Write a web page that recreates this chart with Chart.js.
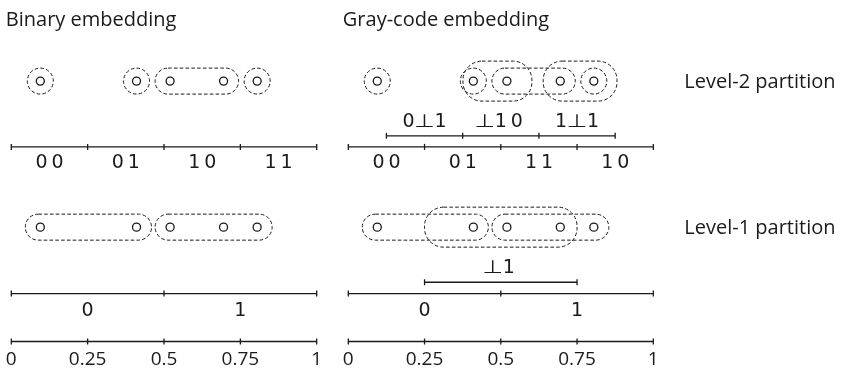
<!DOCTYPE html>
<html><head><meta charset="utf-8">
<script src="https://cdn.jsdelivr.net/npm/chart.js@4.4.1/dist/chart.umd.min.js"></script>
<style>
html,body{margin:0;padding:0;background:#fff;width:841px;height:375px;overflow:hidden}
canvas{position:absolute;top:0}
#cBin{left:0}
#cGray{left:335px}
</style></head><body>
<canvas id="cBin" width="335" height="375"></canvas>
<canvas id="cGray" width="506" height="375"></canvas>
<script>
// ---------------- data ----------------
const pointValues = [0.095, 0.41, 0.52, 0.695, 0.805];
const level2Bounds = [0, 0.25, 0.5, 0.75, 1];
const level1Bounds = [0, 0.5, 1];
const valueTicks = [0, 0.25, 0.5, 0.75, 1];
const valueTickLabels = ['0', '0.25', '0.5', '0.75', '1'];
const binaryLevel2Labels = ['00', '01', '10', '11'];
const binaryLevel1Labels = ['0', '1'];
const grayLevel2Labels = ['00', '01', '11', '10'];
const grayLevel1Labels = ['0', '1'];
const graySubLevel2Bounds = [0.125, 0.375, 0.625, 0.875];
const graySubLevel2Labels = ['0\u22A51', '\u22A510', '1\u22A51'];
const graySubLevel1Bounds = [0.25, 0.75];
const graySubLevel1Labels = ['\u22A51'];
const binaryLevel2Groups = [[0], [1], [2, 3], [4]];
const binaryLevel1Groups = [[0, 1], [2, 3, 4]];
const grayLevel2Groups = [[0], [1], [2, 3], [4]];
const grayLevel1Groups = [[0, 1], [2, 3, 4]];
const grayLevel2Hulls = [[0.376, 0.602], [0.639, 0.881]];
const grayLevel1Hulls = [[0.25, 0.75]];
const panelTitles = ['Binary embedding', 'Gray-code embedding'];
const partitionNames = ['Level-2 partition', 'Level-1 partition'];

// ---------------- layout / style ----------------
const ROW = {
  pts2: 78, sub2Lab: 125, sub2: 134.3, axis2: 145.7, lab2: 167.7,
  pts1: 228.3, sub1Lab: 276, sub1: 285, axis1: 296.7, lab1: 319.3,
  axisV: 346, labV: 370.3, title: 21
};
const INK = '#1a1a1a';
const SANS = '"Open Sans", "Noto Sans", sans-serif';
const CODE = '"DejaVu Sans", sans-serif';
const CODE_ADVANCE = 16;

function cellCenters(bounds) {
  const c = [];
  for (let i = 0; i < bounds.length - 1; i++) c.push((bounds[i] + bounds[i + 1]) / 2);
  return c;
}

function axisDataset(bounds, y) {
  return {
    data: bounds.map(b => ({ x: b, y })),
    showLine: true, borderColor: INK, borderWidth: 1.3,
    pointStyle: 'line', pointRadius: 3, pointBorderWidth: 1.3,
    pointBorderColor: INK, rotation: 90, clip: false, order: 2
  };
}
function pointDataset(y) {
  return {
    data: pointValues.map(v => ({ x: v, y })),
    showLine: false, pointStyle: 'circle', pointRadius: 4,
    pointBorderWidth: 1.3, pointBorderColor: INK, pointBackgroundColor: '#fff',
    clip: false, order: 1
  };
}

function roundRect(ctx, x, y, w, h, r) {
  r = Math.min(r, w / 2, h / 2);
  ctx.beginPath();
  ctx.moveTo(x + r, y);
  ctx.lineTo(x + w - r, y);
  ctx.arcTo(x + w, y, x + w, y + r, r);
  ctx.lineTo(x + w, y + h - r);
  ctx.arcTo(x + w, y + h, x + w - r, y + h, r);
  ctx.lineTo(x + r, y + h);
  ctx.arcTo(x, y + h, x, y + h - r, r);
  ctx.lineTo(x, y + r);
  ctx.arcTo(x, y, x + r, y, r);
  ctx.closePath();
  ctx.stroke();
}

// monospaced-style layout: each character centred in a fixed-width cell
function codeText(ctx, text, cx, base) {
  const chars = Array.from(text);
  const x0 = cx - (chars.length - 1) * CODE_ADVANCE / 2;
  ctx.textAlign = 'center';
  chars.forEach((c, i) => {
    const x = x0 + i * CODE_ADVANCE;
    if (c === '\u22A5') {
      ctx.save(); ctx.translate(x, base); ctx.scale(1.25, 0.95);
      ctx.fillText(c, 0, 0); ctx.restore();
    } else ctx.fillText(c, x, base);
  });
}

function makePanel(id, spec) {
  const datasets = [
    pointDataset(ROW.pts2), pointDataset(ROW.pts1),
    axisDataset(level2Bounds, ROW.axis2), axisDataset(level1Bounds, ROW.axis1),
    axisDataset(valueTicks, ROW.axisV)
  ];
  if (spec.sub2Bounds) datasets.push(axisDataset(spec.sub2Bounds, ROW.sub2));
  if (spec.sub1Bounds) datasets.push(axisDataset(spec.sub1Bounds, ROW.sub1));

  const overlay = {
    id: 'overlay',
    beforeDatasetsDraw(chart) {
      const ctx = chart.ctx, xs = chart.scales.x, ys = chart.scales.y;
      ctx.save();
      ctx.strokeStyle = INK; ctx.lineWidth = 1; ctx.setLineDash([3.6, 2.2]);
      const drawGroups = (groups, row) => groups.forEach(g => {
        const vals = g.map(i => pointValues[i]);
        const pad = g.length > 1 ? 15 : 13;
        const x0 = xs.getPixelForValue(Math.min(...vals)) - pad;
        const x1 = xs.getPixelForValue(Math.max(...vals)) + pad;
        const yc = ys.getPixelForValue(row);
        roundRect(ctx, x0, yc - 13, x1 - x0, 26, 13);
      });
      const drawHulls = (hulls, row) => (hulls || []).forEach(h => {
        const x0 = xs.getPixelForValue(h[0]), x1 = xs.getPixelForValue(h[1]);
        const yc = ys.getPixelForValue(row);
        roundRect(ctx, x0, yc - 20, x1 - x0, 40, 19);
      });
      drawGroups(spec.groups2, ROW.pts2);
      drawGroups(spec.groups1, ROW.pts1);
      drawHulls(spec.hulls2, ROW.pts2);
      drawHulls(spec.hulls1, ROW.pts1);
      ctx.restore();
    },
    afterDraw(chart) {
      const ctx = chart.ctx, xs = chart.scales.x, ys = chart.scales.y, ca = chart.chartArea;
      ctx.save();
      ctx.fillStyle = INK; ctx.textBaseline = 'alphabetic';
      // title
      ctx.font = '20px ' + SANS; ctx.textAlign = 'left';
      ctx.fillText(spec.title, ca.left - 5.5, ys.getPixelForValue(ROW.title));
      // partition names
      if (spec.showNames) {
        ctx.fillText(partitionNames[0], ca.right + 31, ys.getPixelForValue(ROW.pts2) + 7.1);
        ctx.fillText(partitionNames[1], ca.right + 31, ys.getPixelForValue(ROW.pts1) + 7.1);
      }
      // value tick labels
      ctx.font = '19px ' + SANS; ctx.textAlign = 'center';
      valueTicks.forEach((t, i) => ctx.fillText(valueTickLabels[i], xs.getPixelForValue(t), ys.getPixelForValue(ROW.labV)));
      // code labels
      ctx.font = '19px ' + CODE;
      const put = (labels, bounds, row) => cellCenters(bounds).forEach((c, i) =>
        codeText(ctx, labels[i], xs.getPixelForValue(c), ys.getPixelForValue(row)));
      put(spec.l2Labels, level2Bounds, ROW.lab2);
      put(spec.l1Labels, level1Bounds, ROW.lab1);
      if (spec.sub2Bounds) put(spec.sub2Labels, spec.sub2Bounds, ROW.sub2Lab);
      if (spec.sub1Bounds) put(spec.sub1Labels, spec.sub1Bounds, ROW.sub1Lab);
      ctx.restore();
    }
  };

  return new Chart(document.getElementById(id), {
    type: 'scatter',
    data: { datasets },
    options: {
      responsive: false, animation: false, events: [], devicePixelRatio: 1,
      layout: { padding: { left: spec.padL, right: spec.padR, top: 0, bottom: 0 } },
      scales: {
        x: { type: 'linear', min: 0, max: 1, display: false },
        y: { type: 'linear', min: 0, max: 375, reverse: true, display: false }
      },
      plugins: { legend: { display: false }, tooltip: { enabled: false } }
    },
    plugins: [overlay]
  });
}

function start() {
  makePanel('cBin', {
    title: panelTitles[0], padL: 11.3, padR: 18.3,
    l2Labels: binaryLevel2Labels, l1Labels: binaryLevel1Labels,
    groups2: binaryLevel2Groups, groups1: binaryLevel1Groups
  });
  makePanel('cGray', {
    title: panelTitles[1], padL: 13.3, padR: 187.7, showNames: true,
    l2Labels: grayLevel2Labels, l1Labels: grayLevel1Labels,
    sub2Bounds: graySubLevel2Bounds, sub2Labels: graySubLevel2Labels,
    sub1Bounds: graySubLevel1Bounds, sub1Labels: graySubLevel1Labels,
    groups2: grayLevel2Groups, groups1: grayLevel1Groups,
    hulls2: grayLevel2Hulls, hulls1: grayLevel1Hulls
  });
}
if (document.fonts && document.fonts.load) {
  Promise.all([document.fonts.load('20px "Open Sans"'), document.fonts.load('19px "DejaVu Sans"')]).then(start, start);
} else start();
</script>
</body></html>
